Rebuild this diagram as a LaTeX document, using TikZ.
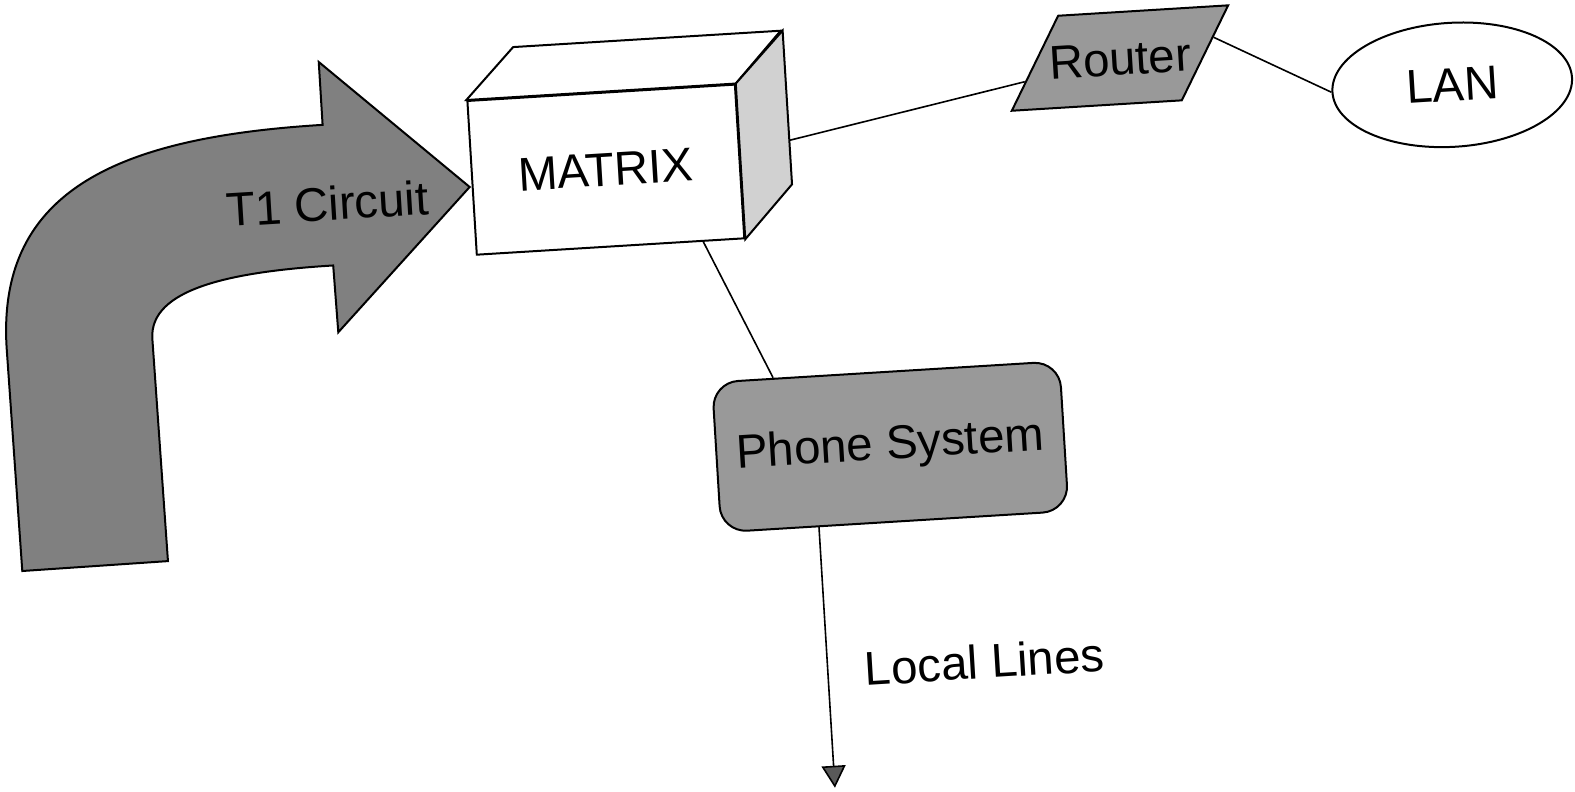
\documentclass[tikz,border=0pt]{standalone}
\usepackage{fontspec}
\setmainfont{Liberation Sans}
\usetikzlibrary{shapes.geometric,arrows.meta}

\begin{document}
\begin{tikzpicture}[
    x=0.5pt, y=-0.5pt,
    mylabel/.style={font=\fontsize{23.7}{28}\selectfont},
    myshade/.style={draw, line width=1pt, fill=black!40},
    myline/.style={line width=0.8pt},
    myarrow/.style={-{Triangle[width=12pt,length=11pt,fill=black!65]}, line width=0.8pt},
]
\path[use as bounding box, fill=white] (0,0) rectangle (1575,792);
\begin{scope}[rotate around={3.5:(787,396)}, transform shape]
% bent arrow coming in from below
\filldraw[line width=1pt, fill=black!50] (13,524) -- (11,300)
    .. controls (11,140) and (140,97) .. (340,97) -- (340,34) -- (483,168)
    -- (343,305) -- (342,238) .. controls (240,238) and (157,250) .. (157,300)
    -- (159,523) -- cycle;
\node[mylabel] (t1) at (340,176) {T1 Circuit};

% box with top and side faces
\node[draw, line width=1pt, fill=white, minimum width=134pt, minimum height=77pt, mylabel] (matrix) at (620,159) {MATRIX};
\filldraw[line width=1pt, fill=white] (matrix.north west) -- ++(50,-50) -- ++(268,0) -- (matrix.north east) -- cycle;
\filldraw[line width=1pt, fill=black!18] (matrix.north east) -- ++(50,-50) -- ++(0,154) -- (matrix.south east) -- cycle;
\path (matrix.east) ++(50,-18) coordinate (mside);

\node[trapezium, trapezium left angle=60.5, trapezium right angle=119.5, myshade,
      text height=17pt, text depth=0pt, inner xsep=-6pt, inner ysep=14.5pt, mylabel] (router) at (1140,79) {Router};
\node[ellipse, draw, line width=1pt, minimum width=120pt, minimum height=62pt, inner sep=0pt, mylabel] (lan) at (1470,126) {LAN};
\node[rectangle, rounded corners=13pt, myshade, minimum width=174pt, minimum height=75pt, mylabel] (phone) at (887,453) {Phone System};

\coordinate (lines) at (811,790);
\node[mylabel] (local) at (968,673) {Local Lines};

\draw[myline] (matrix.-40) -- (phone.146);
\draw[myline] (mside) -- (router);
\draw[myline] (router.9) -- (lan.west);
\draw[myarrow] (phone.-135) -- (lines);
\end{scope}
\end{tikzpicture}
\end{document}
